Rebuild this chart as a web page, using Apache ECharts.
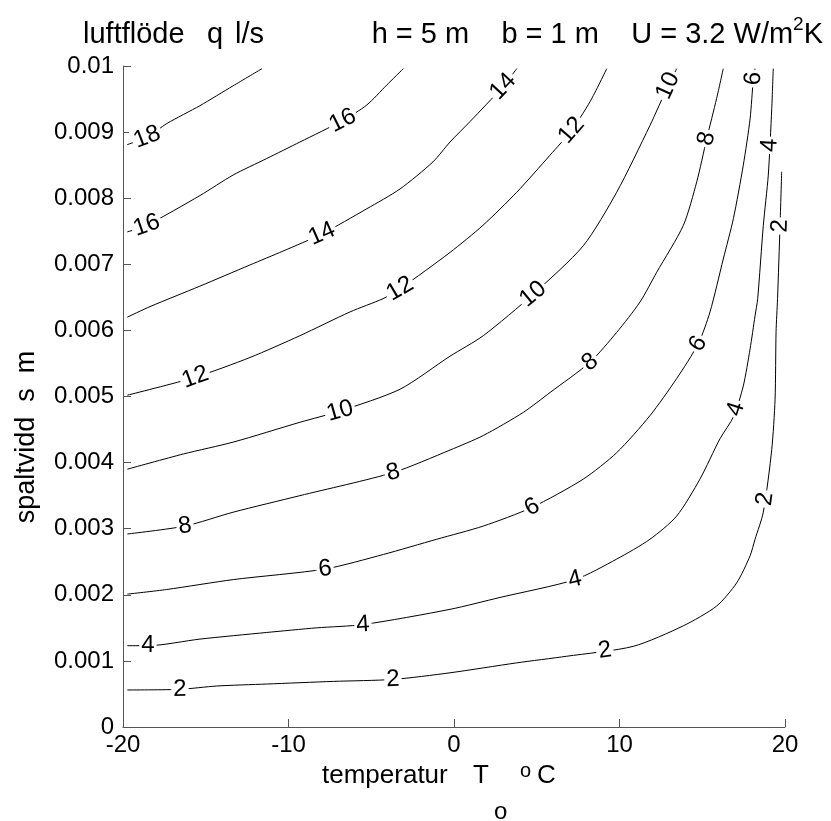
<!DOCTYPE html>
<html><head><meta charset="utf-8">
<script src="https://cdn.jsdelivr.net/npm/echarts@6/dist/echarts.min.js"></script>
<style>html,body{margin:0;padding:0;background:#fff}#c{width:831px;height:821px}</style>
</head><body><div id="c"></div>
<script>
// ---- data ----
const levels = [2, 4, 6, 8, 10, 12, 14, 16, 18];
const xTicks = [-20, -10, 0, 10, 20];
const yTickLabels = ['0','0.001','0.002','0.003','0.004','0.005','0.006','0.007','0.008','0.009','0.01'];

const c2 = [[-19.74,0.00056],[-16.56,0.00057],[-14.34,0.00062],[-11.32,0.00065],[-7.29,0.00069],[-3.67,0.00072],[-0.24,0.00082],[3.78,0.00097],[6.80,0.00107],[10.83,0.00122],[13.85,0.00153],[15.87,0.00183],[17.08,0.00218],[17.89,0.00259],[18.19,0.00284],[18.69,0.00325],[19.20,0.00420],[19.40,0.00496],[19.46,0.00598],[19.55,0.00648],[19.70,0.00759],[19.80,0.00840]];
const c4 = [[-19.74,0.00123],[-18.47,0.00123],[-15.35,0.00133],[-11.32,0.00143],[-8.30,0.00150],[-5.48,0.00155],[-0.24,0.00178],[2.78,0.00196],[7.31,0.00223],[9.83,0.00254],[11.84,0.00284],[13.45,0.00319],[14.86,0.00375],[16.07,0.00436],[16.90,0.00470],[17.48,0.00516],[17.89,0.00572],[18.19,0.00622],[18.35,0.00648],[18.69,0.00759],[18.99,0.00835],[19.20,0.00936],[19.29,0.00996]];
const c6 = [[-19.74,0.00201],[-17.36,0.00208],[-13.34,0.00223],[-7.79,0.00239],[-4.27,0.00261],[-1.05,0.00284],[1.77,0.00304],[4.69,0.00332],[7.81,0.00375],[9.83,0.00415],[11.84,0.00471],[13.45,0.00527],[14.76,0.00580],[15.47,0.00628],[16.27,0.00708],[16.88,0.00769],[17.48,0.00850],[17.89,0.00920],[18.09,0.00981],[18.19,0.00996]];
const c8 = [[-19.74,0.00292],[-16.25,0.00304],[-13.34,0.00325],[-9.31,0.00350],[-3.67,0.00385],[-0.24,0.00419],[1.77,0.00441],[4.19,0.00476],[5.80,0.00506],[8.22,0.00552],[9.83,0.00597],[11.24,0.00643],[12.25,0.00688],[13.86,0.00759],[14.67,0.00825],[15.27,0.00890],[15.87,0.00951],[16.27,0.00996]];
const c10 = [[-19.74,0.00390],[-16.36,0.00413],[-13.34,0.00431],[-9.31,0.00461],[-6.89,0.00478],[-3.26,0.00511],[-0.24,0.00561],[1.77,0.00592],[4.79,0.00655],[7.81,0.00728],[9.83,0.00809],[11.84,0.00910],[12.95,0.00971],[13.46,0.00996]];
const c12 = [[-19.74,0.00502],[-15.65,0.00529],[-12.33,0.00559],[-9.31,0.00592],[-6.28,0.00628],[-4.29,0.00648],[-3.26,0.00663],[-0.24,0.00718],[1.75,0.00759],[3.79,0.00809],[5.80,0.00865],[7.11,0.00903],[8.22,0.00946],[9.23,0.00996]];
const c14 = [[-19.74,0.00620],[-18.37,0.00636],[-15.35,0.00667],[-12.33,0.00699],[-10.33,0.00720],[-7.98,0.00746],[-5.27,0.00784],[-3.26,0.00814],[-1.27,0.00855],[-0.24,0.00885],[0.97,0.00916],[2.96,0.00969],[3.79,0.00996]];
const c16 = [[-19.74,0.00749],[-18.57,0.00759],[-15.35,0.00804],[-13.35,0.00835],[-11.32,0.00860],[-9.31,0.00885],[-6.69,0.00918],[-5.27,0.00941],[-4.07,0.00971],[-3.06,0.00996]];
const c18 = [[-19.75,0.00881],[-18.50,0.00893],[-17.35,0.00913],[-15.35,0.00940],[-13.35,0.00970],[-11.60,0.00996]];

// contour label positions (approximate, snapped onto the line)
const lab2 = [[-16.56,0.00057],[-3.69,0.00072],[9.12,0.00114],[18.79,0.00345],[19.70,0.00758]];
const lab4 = [[-18.49,0.00123],[-5.50,0.00155],[7.31,0.00223],[17.16,0.00480],[19.15,0.00880]];
const lab6 = [[-7.79,0.00239],[4.71,0.00333],[14.74,0.00580],[18.07,0.00981]];
const lab8 = [[-16.25,0.00304],[-3.69,0.00386],[8.22,0.00552],[15.29,0.00890]];
const lab10 = [[-6.89,0.00478],[4.77,0.00655],[12.93,0.00970]];
const lab12 = [[-15.65,0.00530],[-3.26,0.00663],[7.13,0.00902]];
const lab14 = [[-7.98,0.00746],[2.96,0.00969]];
const lab16 = [[-18.55,0.00758],[-6.71,0.00917]];
const lab18 = [[-18.55,0.00893]];

const contours = [c2, c4, c6, c8, c10, c12, c14, c16, c18];
const labels = [lab2, lab4, lab6, lab8, lab10, lab12, lab14, lab16, lab18];

// ---- chart ----
const FONT = '"Liberation Sans", Arial, Helvetica, sans-serif';
const AX = '#555';
const chart = echarts.init(document.getElementById('c'), null, {renderer: 'canvas'});

function txt(text, x, y, size, extra) {
  return {
    type: 'text', x: x, y: y, silent: true,
    style: Object.assign({
      text: text, fontSize: size, fontFamily: FONT, fill: '#000',
      align: 'left', textAlign: 'left', verticalAlign: 'middle', textVerticalAlign: 'middle'
    }, extra || {})
  };
}

const lineSeries = contours.map((c, i) => ({
  type: 'line', name: String(levels[i]), data: c, showSymbol: false, symbol: 'none',
  smooth: 0.25, lineStyle: {color: '#000', width: 1}, z: 2, silent: true
}));

const option = {
  animation: false,
  backgroundColor: '#fff',
  grid: {left: 123, right: 46, top: 66, bottom: 94, containLabel: false},
  xAxis: {
    type: 'value', min: xTicks[0], max: xTicks[xTicks.length - 1], interval: 10,
    axisLine: {show: true, onZero: false, lineStyle: {color: AX, width: 1}},
    axisTick: {show: true, inside: true, length: 8, lineStyle: {color: AX}},
    axisLabel: {fontSize: 24, fontFamily: FONT, color: '#000', margin: 6},
    splitLine: {show: false}
  },
  yAxis: {
    type: 'value', min: 0, max: 0.01, interval: 0.001,
    axisLine: {show: true, onZero: false, lineStyle: {color: AX, width: 1}},
    axisTick: {show: true, inside: true, length: 8, lineStyle: {color: AX}},
    axisLabel: {fontSize: 24, fontFamily: FONT, color: '#000', margin: 9,
      formatter: v => yTickLabels[Math.round(v * 1000)]},
    splitLine: {show: false}
  },
  graphic: [
    txt('luftflöde', 83, 35, 29),
    txt('q', 207, 35, 29),
    txt('l/s', 235, 35, 29),
    {type: 'text', x: 823, y: 35, silent: true, style: {
      text: '{t|h = 5 m    b = 1 m    U = 3.2 W/m}{s|2}{t|K}', align: 'right', textAlign: 'right',
      verticalAlign: 'middle', textVerticalAlign: 'middle', fill: '#000',
      rich: {
        t: {fontSize: 29, fontFamily: FONT, lineHeight: 40, fill: '#000', color: '#000'},
        s: {fontSize: 19, fontFamily: FONT, lineHeight: 22, verticalAlign: 'top', fill: '#000', color: '#000'}
      }
    }},
    txt('temperatur', 322, 776, 26),
    txt('T', 473, 776, 26),
    txt('o', 494, 812, 24),
    txt('o', 520, 771, 20),
    txt('C', 537, 776, 26),
    {type: 'text', x: 27, y: 437, rotation: Math.PI / 2, silent: true, style: {
      text: 'spaltvidd  s  m', fontSize: 27, fontFamily: FONT, fill: '#000',
      align: 'center', textAlign: 'center', verticalAlign: 'middle', textVerticalAlign: 'middle'}}
  ],
  series: lineSeries.concat([{
    id: 'labels', type: 'scatter', symbolSize: 0, data: [], z: 10, silent: true,
    itemStyle: {color: '#fff', opacity: 1}
  }])
};
chart.setOption(option);

// place labels on the contour lines, rotated along them
const labelData = [];
contours.forEach((c, i) => {
  const pts = c.map(p => chart.convertToPixel({gridIndex: 0}, p));
  labels[i].forEach(lp => {
    const q = chart.convertToPixel({gridIndex: 0}, lp);
    let best = null;
    for (let k = 0; k < pts.length - 1; k++) {
      const a = pts[k], b = pts[k + 1];
      const dx = b[0] - a[0], dy = b[1] - a[1];
      const L2 = dx * dx + dy * dy;
      let t = L2 ? ((q[0] - a[0]) * dx + (q[1] - a[1]) * dy) / L2 : 0;
      t = Math.max(0, Math.min(1, t));
      const px = a[0] + t * dx, py = a[1] + t * dy;
      const d = (px - q[0]) ** 2 + (py - q[1]) ** 2;
      if (!best || d < best.d) best = {d: d, p: [px, py], dx: dx, dy: dy};
    }
    let ang = Math.atan2(-best.dy, best.dx) * 180 / Math.PI;
    if (ang > 90) ang -= 180;
    if (ang <= -90) ang += 180;
    labelData.push({
      value: chart.convertFromPixel({gridIndex: 0}, best.p),
      label: {show: true, position: 'inside', rotate: ang, formatter: String(levels[i]),
        fontSize: 24, fontFamily: FONT, color: '#000', opacity: 1, backgroundColor: '#fff',
        padding: [0, 2], lineHeight: 22}
    });
  });
});
chart.setOption({series: [{id: 'labels', data: labelData}]});
</script>
</body></html>
